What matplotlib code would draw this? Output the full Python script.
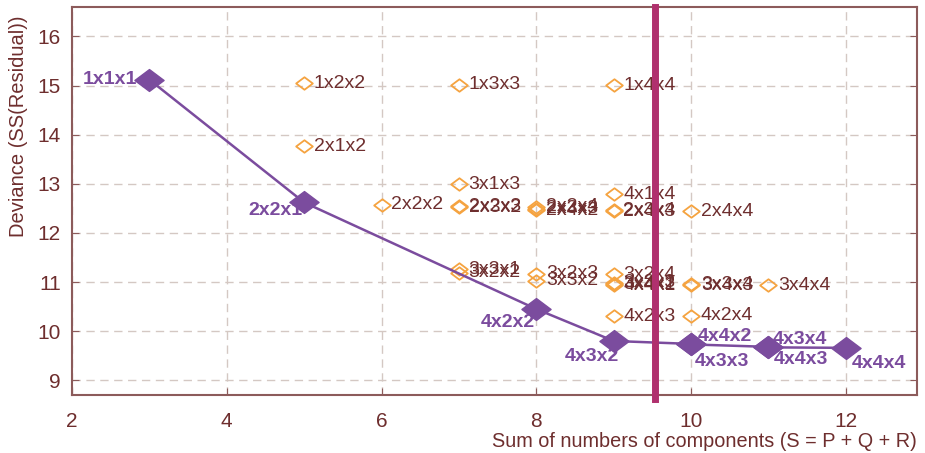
import numpy as np
import matplotlib
matplotlib.use("Agg")
import matplotlib.pyplot as plt
from matplotlib.path import Path

plt.rcParams['font.family'] = ['Liberation Sans', 'DejaVu Sans']

# all fitted models (orange, open diamonds)
model_labels = [
    "1x2x2", "2x1x2", "2x2x2",
    "1x3x3", "3x1x3", "2x2x3", "2x3x2", "3x3x1", "3x2x2",
    "2x2x4", "2x3x3", "2x4x2", "3x2x3", "3x3x2",
    "1x4x4", "4x1x4", "2x3x4", "2x4x3", "3x2x4", "3x3x3", "3x4x2", "4x4x1", "4x2x3",
    "2x4x4", "3x3x4", "3x4x3", "4x2x4",
    "3x4x4",
]
model_s = [
    5, 5, 6,
    7, 7, 7, 7, 7, 7,
    8, 8, 8, 8, 8,
    9, 9, 9, 9, 9, 9, 9, 9, 9,
    10, 10, 10, 10,
    11,
]
model_dev = [
    15.05, 13.76, 12.57,
    15.02, 12.99, 12.54, 12.52, 11.26, 11.19,
    12.53, 12.49, 12.46, 11.17, 11.03,
    15.01, 12.79, 12.46, 12.44, 11.16, 10.99, 10.96, 10.93, 10.30,
    12.44, 10.95, 10.93, 10.31,
    10.93,
]

# best model for each S (purple line)
best_labels = ["1x1x1", "2x2x1", "4x2x2", "4x3x2", "4x4x2", "4x3x3",
               "4x3x4", "4x4x3", "4x4x4"]
best_s = [3, 5, 8, 9, 10, 10, 11, 11, 12]
best_dev = [15.12, 12.62, 10.45, 9.80, 9.74, 9.73, 9.68, 9.67, 9.66]

cut_s = 9.53

# label offsets for the purple points (points), with alignment
best_offsets = [(-9, 0, 'right'), (-1, -6, 'right'), (-1, -10, 'right'),
                (4, -11, 'right'), (5, 5, 'left'), (3, -12, 'left'),
                (3, 5, 'left'), (4, -9, 'left'), (4, -11, 'left')]

PURPLE = '#7b4c9e'
ORANGE = '#f5a340'
TEXT = '#6e2e2e'
SPINE = '#8c5b5b'
GRID = '#d4c8c3'

diamond = Path([(-1, 0), (0, 0.75), (1, 0), (0, -0.75), (-1, 0)],
               [Path.MOVETO, Path.LINETO, Path.LINETO, Path.LINETO,
                Path.CLOSEPOLY])


def main():
    fig = plt.figure(figsize=(9.25, 4.53), dpi=100)
    ax = fig.add_axes([72 / 925, 1 - 395 / 453, 845 / 925, 388 / 453])

    ax.set_xlim(2, 12.92)
    ax.set_ylim(8.7, 16.6)
    ax.set_xticks(np.arange(2, 13, 2))
    ax.set_yticks(np.arange(9, 17, 1))
    ax.grid(True, color=GRID, linestyle=(0, (6, 4)), linewidth=1)
    ax.set_axisbelow(True)

    for sp in ax.spines.values():
        sp.set_color(SPINE)
        sp.set_linewidth(1.5)
    ax.tick_params(direction='in', length=5, color=SPINE, labelcolor=TEXT,
                   labelsize=15, right=True, top=False)
    ax.tick_params(axis='x', pad=12)
    ax.tick_params(axis='y', pad=8)

    ax.set_ylabel("Deviance (SS(Residual))", color=TEXT, fontsize=14.5,
                  loc='top')
    ax.yaxis.set_label_coords(-0.052, 0.979)
    ax.set_xlabel("Sum of numbers of components (S = P + Q + R)", color=TEXT,
                  fontsize=14.3, loc='right', labelpad=1)

    ax.plot(model_s, model_dev, linestyle='none', marker=diamond,
            markersize=12, markerfacecolor='none', markeredgecolor=ORANGE,
            markeredgewidth=1.3, zorder=3)
    for lab, s, d in zip(model_labels, model_s, model_dev):
        ax.annotate(lab, (s, d), xytext=(7, 0), textcoords='offset points',
                    ha='left', va='center', fontsize=14, color=TEXT, zorder=4)

    ax.plot(best_s, best_dev, color=PURPLE, linewidth=1.8, marker=diamond,
            markersize=21, zorder=5)
    for lab, s, d, (dx, dy, ha) in zip(best_labels, best_s, best_dev,
                                        best_offsets):
        ax.annotate(lab, (s, d), xytext=(dx, dy), textcoords='offset points',
                    ha=ha, va='center', fontsize=14, fontweight='bold',
                    color=PURPLE, zorder=6)

    ax.axvline(cut_s, ymin=-0.01, ymax=1, color='#b0306e', linewidth=5,
               clip_on=False, zorder=7)

    fig.savefig("out.png", dpi=100)


if __name__ == "__main__":
    main()
